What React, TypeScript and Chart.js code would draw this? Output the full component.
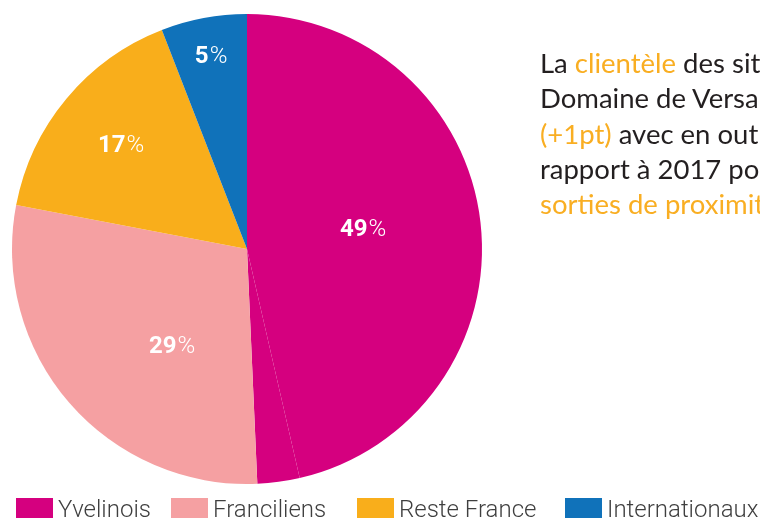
import React, { useEffect, useRef } from "react";
import { Chart, registerables } from "chart.js";

Chart.register(...registerables);

// ---- data ----
const categories = ["Yvelinois", "Franciliens", "Reste France", "Internationaux"];
const displayedPercent = [49, 29, 17, 5];
const categoryColors = ["#D5007F", "#F5A0A2", "#F9AE1B", "#1072BA"];
// slices as drawn in the picture (the Yvelinois slice shows a seam, so it is two pieces)
const sliceCategory = [0, 0, 1, 2, 3];
const sliceValues = [46.4, 2.9, 28.7, 16.1, 5.9];

// label placement (fraction of radius, angular shift in degrees)
const labelRadius = [0.5, 0.52, 0.7, 0.84];
const labelAngleShift = [-9, -11, 0, 0];
// legend item left edges (layout)
const legendItemLeft = [16, 171, 357, 565];

const ORANGE_TEXT = "#F9AE22";
const DARK_TEXT = "#231F20";

const labelPlugin = {
  id: "pctLabels",
  afterDatasetsDraw(chart: any) {
    const meta = chart.getDatasetMeta(0);
    const ctx = chart.ctx;
    ctx.save();
    categories.forEach((_, c) => {
      const arcs = meta.data.filter((_a: any, i: number) => sliceCategory[i] === c);
      if (!arcs.length) return;
      const s = Math.min(...arcs.map((a: any) => a.startAngle));
      const e = Math.max(...arcs.map((a: any) => a.endAngle));
      const mid = (s + e) / 2 + (labelAngleShift[c] * Math.PI) / 180;
      const r = arcs[0].outerRadius * labelRadius[c];
      const x = arcs[0].x + Math.cos(mid) * r;
      const y = arcs[0].y + Math.sin(mid) * r + 2;
      const num = String(displayedPercent[c]);
      const boldFont = "bold 24px Roboto";
      const lightFont = "300 24px Roboto";
      ctx.font = boldFont;
      const w1 = ctx.measureText(num).width;
      ctx.font = lightFont;
      const w2 = ctx.measureText("%").width;
      const x0 = x - (w1 + w2) / 2;
      ctx.fillStyle = "#FFFFFF";
      ctx.textBaseline = "middle";
      ctx.textAlign = "left";
      ctx.font = boldFont;
      ctx.fillText(num, x0, y);
      ctx.font = lightFont;
      ctx.fillText("%", x0 + w1 + 1, y);
    });
    ctx.restore();
  },
};

export default function App() {
  const ref = useRef<HTMLCanvasElement | null>(null);

  useEffect(() => {
    document.body.style.margin = "0";
    if (!ref.current) return;
    const chart = new Chart(ref.current, {
      type: "pie",
      data: {
        labels: sliceCategory.map((c) => categories[c]),
        datasets: [
          {
            data: sliceValues,
            backgroundColor: sliceCategory.map((c) => categoryColors[c]),
            borderWidth: 0,
          },
        ],
      },
      options: {
        responsive: true,
        maintainAspectRatio: false,
        animation: false,
        layout: { padding: { left: 12, right: 278, top: 14, bottom: 34 } },
        plugins: {
          legend: { display: false },
          tooltip: { enabled: false },
        },
      },
      plugins: [labelPlugin],
    });
    return () => chart.destroy();
  }, []);

  const orange = (t: string) => <span style={{ color: ORANGE_TEXT }}>{t}</span>;

  return (
    <div
      style={{
        position: "fixed",
        left: 0,
        top: 0,
        width: 760,
        height: 518,
        overflow: "hidden",
        background: "#FFFFFF",
      }}
    >
      <div style={{ position: "absolute", left: 0, top: 0, width: 760, height: 518 }}>
        <canvas ref={ref} />
      </div>
      <div
        style={{
          position: "absolute",
          left: 540,
          top: 45,
          fontFamily: "Lato, 'Open Sans', sans-serif",
          fontSize: 27.5,
          lineHeight: "35.3px",
          color: DARK_TEXT,
          whiteSpace: "nowrap",
        }}
      >
        La {orange("clientèle")} des sites franciliens du
        <br />
        Domaine de Versailles progresse
        <br />
        {orange("(+1pt)")} avec en outre une hausse par
        <br />
        rapport à 2017 pour les
        <br />
        {orange("sorties de proximité")}.
      </div>
      {categories.map((name, i) => (
        <div
          key={name}
          style={{
            position: "absolute",
            left: legendItemLeft[i],
            top: 498,
            display: "flex",
            alignItems: "flex-start",
            whiteSpace: "nowrap",
            fontFamily: "Roboto, sans-serif",
            fontWeight: 300,
            fontSize: 24,
            color: "#3F3F3F",
          }}
        >
          <div style={{ width: 37, height: 24, background: categoryColors[i] }} />
          <div style={{ marginLeft: 5, lineHeight: "24px", marginTop: -1 }}>{name}</div>
        </div>
      ))}
    </div>
  );
}
